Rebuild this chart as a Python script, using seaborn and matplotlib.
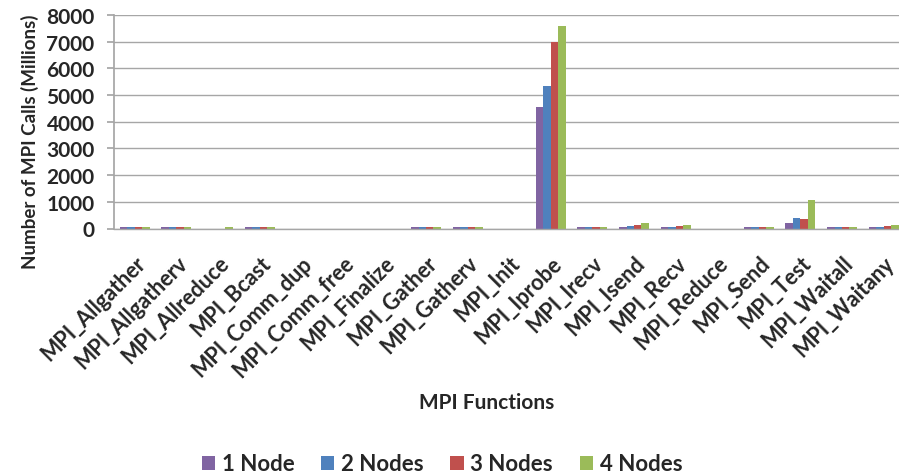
import matplotlib
matplotlib.use("Agg")
import matplotlib.pyplot as plt
import seaborn as sns
import pandas as pd

functions = ["MPI_Allgather", "MPI_Allgatherv", "MPI_Allreduce", "MPI_Bcast",
             "MPI_Comm_dup", "MPI_Comm_free", "MPI_Finalize", "MPI_Gather",
             "MPI_Gatherv", "MPI_Init", "MPI_Iprobe", "MPI_Irecv", "MPI_Isend",
             "MPI_Recv", "MPI_Reduce", "MPI_Send", "MPI_Test", "MPI_Waitall",
             "MPI_Waitany"]
series_names = ["1 Node", "2 Nodes", "3 Nodes", "4 Nodes"]
node1 = [40, 40, 0, 40, 0, 0, 0, 40, 40, 0, 4540, 40, 40, 40, 0, 40, 200, 40, 40]
node2 = [40, 40, 0, 40, 0, 0, 0, 40, 40, 0, 5330, 40, 80, 40, 0, 40, 400, 40, 40]
node3 = [40, 40, 0, 40, 0, 0, 0, 40, 40, 0, 7000, 40, 145, 110, 0, 40, 360, 40, 110]
node4 = [40, 40, 40, 40, 0, 0, 0, 40, 40, 0, 7580, 70, 220, 145, 0, 40, 1050, 40, 145]
colors = ["#8064A2", "#4F81BD", "#C0504D", "#9BBB59"]

rows = []
for name, vals in zip(series_names, [node1, node2, node3, node4]):
    for f, v in zip(functions, vals):
        rows.append({"Function": f, "Series": name, "Value": v})
df = pd.DataFrame(rows)

sns.set_theme(style="white")
plt.rcParams["font.family"] = ["Lato", "DejaVu Sans"]

fig = plt.figure(figsize=(8.99, 4.77), dpi=100)
W, H = 899, 477
left, right = 114, 114 + 19 * 41.6
top, bottom = 16, 229.5
ax = fig.add_axes([left / W, 1 - bottom / H, (right - left) / W, (bottom - top) / H])

sns.barplot(data=df, x="Function", y="Value", hue="Series", order=functions,
            hue_order=series_names, palette=colors, width=0.72, saturation=1,
            ax=ax, legend=True, linewidth=0)

ax.set_ylim(0, 8000)
ax.set_xlim(-0.5, len(functions) - 0.5)
ax.set_yticks(range(0, 8001, 1000))
ax.yaxis.grid(True, color="#a6a6a6", linewidth=1)
ax.set_axisbelow(True)
for s in ["top", "right"]:
    ax.spines[s].set_visible(False)
ax.spines["left"].set_color("#a6a6a6")
ax.spines["bottom"].set_color("#a6a6a6")
ax.spines["bottom"].set_linewidth(1.0)
ax.tick_params(axis="y", which="both", left=True, length=5, color="#a6a6a6",
               labelsize=15, pad=9)
ax.tick_params(axis="x", bottom=False, labelsize=15.5, pad=11)
for lbl in ax.get_yticklabels():
    lbl.set_fontweight("bold")
plt.setp(ax.get_xticklabels(), rotation=45, ha="right", rotation_mode="anchor",
         fontweight="bold")
ax.set_xlabel("")
ax.set_ylabel("")

fig.text(30 / W, 1 - 142 / H, "Number of MPI Calls (Millions)", rotation=90,
         ha="center", va="center", fontsize=13.5, fontweight="bold")
fig.text(487 / W, 1 - 403 / H, "MPI Functions", ha="center", va="center",
         fontsize=15, fontweight="bold")

handles, labels = ax.get_legend_handles_labels()
ax.get_legend().remove()
fig.legend(handles, labels, loc="center", bbox_to_anchor=(442 / W, 1 - 465 / H),
           ncol=4, frameon=False, prop={"weight": "bold", "size": 16},
           handlelength=0.6, handleheight=0.6, handletextpad=0.3,
           columnspacing=1.2)

fig.savefig("out.png", dpi=100)
